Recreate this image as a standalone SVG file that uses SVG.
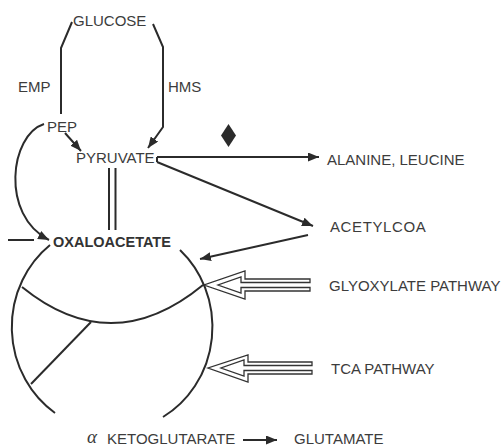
<svg xmlns="http://www.w3.org/2000/svg" width="504" height="448" viewBox="0 0 504 448">
<defs>
<marker id="ah" markerUnits="userSpaceOnUse" markerWidth="12" markerHeight="9" refX="11" refY="4.5" orient="auto">
<path d="M0,0 L11,4.5 L0,9 Z" fill="#2b2b2b"/>
</marker>
</defs>
<style>
.t{font-family:"Liberation Sans",Arial,sans-serif;font-size:15px;fill:#3c3c3c}
.b{font-weight:bold;font-size:14.5px;fill:#333}
.l{fill:none;stroke:#2b2b2b;stroke-width:2}
.a{fill:none;stroke:#2b2b2b;stroke-width:2;marker-end:url(#ah)}
.h{fill:#fff;stroke:#333;stroke-width:1.3;stroke-linejoin:miter}
</style>
<rect width="504" height="448" fill="#fff"/>
<g id="connectors">
<path class="l" d="M72,22 L61,48 L61,114"/>
<path class="a" d="M65,133 L81,151"/>
<path class="a" d="M153,24 L163,47 L163,127 L148,148"/>
<path class="a" d="M44,124 C10,135 0,215 49,240"/>
<path class="a" d="M157,157 L319,157"/>
<path class="l" d="M157,157 L157,162"/>
<path class="a" d="M157,162 L313,226"/>
<path class="a" d="M308,235 L200,259"/>
<path class="l" d="M109,168 L109,230 M115.5,168 L115.5,230" stroke-width="1.5"/>
<path class="l" d="M8,240 L34,240" stroke-width="2.5"/>
<path class="a" d="M243,440 L277,440" stroke-width="1.8"/>
<path class="h" d="M310,282.5 L241,282.5 L241,277 L218,285 L241,293 L241,287.5 L310,287.5 L310,291 L245,291 L245,299 L204,285 L245,271 L245,279 L310,279 Z"/>
<path class="h" d="M312,365.5 L244,365.5 L244,360 L221,368 L244,376 L244,370.5 L312,370.5 L312,374 L248,374 L248,382 L208,368 L248,355 L248,362 L312,362 Z"/>
</g>
<g id="diamond">
<path d="M228.5,124 L236,135.5 L228.5,147 L221,135.5 Z" fill="#2b2b2b"/>
</g>
<g id="tca-cycle">
<path class="l" d="M50,245 A99,104 0 0 0 55,413"/>
<path class="l" d="M180,250 A99,104 0 0 1 163,417"/>
<path class="l" d="M22,287 Q112,360 203,285"/>
<path class="l" d="M91,322 L31,384"/>
</g>
<g id="glucose"><text class="t" x="73" y="26">GLUCOSE</text></g>
<g id="emp"><text class="t" x="18" y="92">EMP</text></g>
<g id="hms"><text class="t" x="168" y="92">HMS</text></g>
<g id="pep"><text class="t" x="47" y="132">PEP</text></g>
<g id="pyruvate"><text class="t" x="76" y="163">PYRUVATE</text></g>
<g id="alanine"><text class="t" x="327" y="165">ALANINE, LEUCINE</text></g>
<g id="acetylcoa"><text class="t" x="330" y="232" letter-spacing="0.6">ACETYLCOA</text></g>
<g id="oxaloacetate"><text class="t b" x="53" y="247">OXALOACETATE</text></g>
<g id="glyoxylate"><text class="t" x="329" y="290.5">GLYOXYLATE PATHWAY</text></g>
<g id="tca"><text class="t" x="331" y="374">TCA PATHWAY</text></g>
<g id="ketoglutarate"><text x="87" y="443" style="font-family:'Liberation Serif',serif;font-style:italic;font-size:19px;fill:#3c3c3c">α</text><text class="t" x="107" y="444">KETOGLUTARATE</text></g>
<g id="glutamate"><text class="t" x="294" y="444">GLUTAMATE</text></g>
</svg>
